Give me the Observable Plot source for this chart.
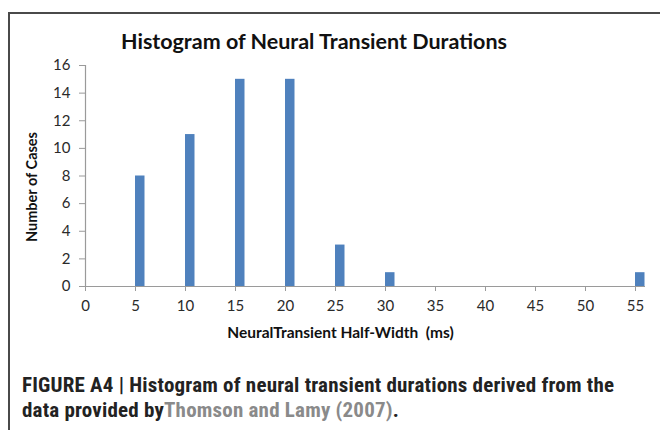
<!DOCTYPE html>
<html><head><meta charset="utf-8">
<script src="https://cdn.jsdelivr.net/npm/d3@7"></script>
<script src="https://cdn.jsdelivr.net/npm/@observablehq/plot@0.6"></script>
<style>
body{margin:0;background:#fff;}
#wrap{position:relative;width:660px;height:430px;overflow:hidden;background:#fff;}
#frame{position:absolute;left:8px;top:12px;width:700px;height:500px;border-left:2px solid #4a4a4a;border-top:2px solid #4a4a4a;}
#title{position:absolute;left:0;width:628px;top:28px;text-align:center;font:bold 21.5px Lato, sans-serif;color:#111;}
#chart{position:absolute;left:0;top:50px;}
#caption{position:absolute;left:22px;top:373px;font:bold 21px "Liberation Sans Narrow", "Roboto Condensed", sans-serif;letter-spacing:0.2px;line-height:25px;color:#222;white-space:nowrap;}
#caption .ref{color:#8a8a8a;}
</style>
</head><body>
<div id="wrap">
  <div id="frame"></div>
  <div id="title">Histogram of Neural Transient Durations</div>
  <div id="chart"></div>
  <div id="caption">FIGURE A4 | Histogram of neural transient durations derived from the<br>data provided by<span class="ref">Thomson and Lamy (2007)</span>.</div>
</div>
<script>
const halfWidths = [5, 10, 15, 20, 25, 30, 55];
const caseCounts = [8, 11, 15, 15, 3, 1, 1];
const xTicks = [0, 5, 10, 15, 20, 25, 30, 35, 40, 45, 50, 55];
const yTicks = [0, 2, 4, 6, 8, 10, 12, 14, 16];
const xLabel = "NeuralTransient Half-Width\u00a0\u00a0(ms)";
const yLabel = "Number of Cases";

const data = halfWidths.map((x, i) => ({x, n: caseCounts[i]}));
const barWidth = 0.95;

const chart = Plot.plot({
  width: 660,
  height: 300,
  marginLeft: 85,
  marginRight: 15,
  marginTop: 15,
  marginBottom: 64,
  style: {fontFamily: "Lato, sans-serif", fontSize: "15px", color: "#222", background: "transparent"},
  x: {domain: [0, 56]},
  y: {domain: [0, 16]},
  marks: [
    Plot.rectY(data, {x1: "x", x2: d => d.x + barWidth, y: "n", fill: "#4F81BD", insetLeft: 0, insetRight: 0}),
    Plot.ruleY([0], {stroke: "#9a9a9a", strokeWidth: 1.2}),
    Plot.ruleX([0], {stroke: "#9a9a9a", strokeWidth: 1.2}),
    Plot.axisX({ticks: xTicks, tickSize: 5, tickPadding: 9, stroke: "#9a9a9a", fill: "#2a2a2a", fontSize: 15, label: null, tickFormat: d => d}),
    Plot.axisY({ticks: yTicks, tickSize: 6, tickPadding: 9, stroke: "#9a9a9a", fill: "#2a2a2a", fontSize: 15, label: null}),
    Plot.text([xLabel], {frameAnchor: "bottom", textAnchor: "middle", lineAnchor: "middle", dx: -25, dy: 47, fontWeight: "bold", fontSize: 15.5, fill: "#111"}),
    Plot.text([yLabel], {frameAnchor: "left", textAnchor: "middle", lineAnchor: "middle", dx: -53, dy: 11, rotate: -90, fontWeight: "bold", fontSize: 14.5, fill: "#111"})
  ]
});
document.getElementById("chart").appendChild(chart);
</script>
</body></html>
